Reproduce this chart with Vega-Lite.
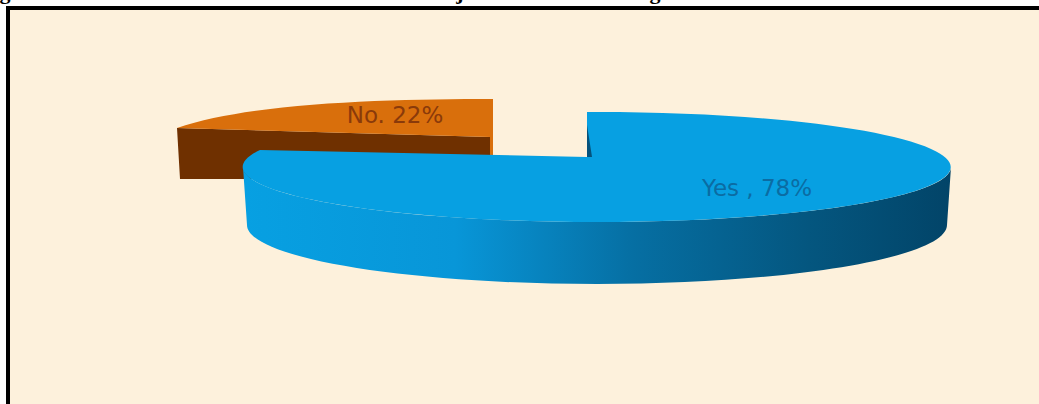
{
  "$schema": "https://vega.github.io/schema/vega-lite/v6.json",
  "width": 1039,
  "height": 404,
  "autosize": "none",
  "padding": {"left": 8, "top": 8, "right": 0, "bottom": 0},
  "background": "#ffffff",
  "view": {"fill": "#fdf1dc", "stroke": "#000000", "strokeWidth": 4},
  "data": {
    "values": [
      {"slice": "No", "value": 22, "label": "No. 22%"},
      {"slice": "Yes", "value": 78, "label": "Yes , 78%"}
    ]
  },
  "encoding": {
    "x": {"field": "slice", "type": "nominal", "axis": null, "scale": {"type": "point", "domain": ["No", "Yes"], "range": [485, 579], "padding": 0}},
    "y": {"field": "slice", "type": "nominal", "axis": null, "scale": {"type": "point", "domain": ["No", "Yes"], "range": [132, 149], "padding": 0}}
  },
  "layer": [
    {
      "transform": [{"filter": "datum.slice === 'No'"}],
      "mark": {"type": "point", "filled": true, "size": 4, "opacity": 1, "strokeWidth": 0, "fill": "#6f3000",
        "shape": "M-316,-12 L-313,39 L-240,39 L-240,15 L-3,15 L-3,-3 Z"}
    },
    {
      "transform": [{"filter": "datum.slice === 'No'"}],
      "mark": {"type": "point", "filled": true, "size": 4, "opacity": 1, "strokeWidth": 0, "fill": "#d96f0c",
        "shape": "M0,-41 C-100,-41 -240,-38 -316,-12 L-3,-3 L-3,15 L0,15 Z"}
    },
    {
      "transform": [{"filter": "datum.slice === 'Yes'"}],
      "mark": {"type": "point", "filled": true, "size": 4, "opacity": 1, "strokeWidth": 0,
        "fill": {"gradient": "linear", "x1": 0, "x2": 1, "y1": 0, "y2": 0, "stops": [
          {"offset": 0, "color": "#07a0e2"},
          {"offset": 0.3, "color": "#0896d8"},
          {"offset": 0.55, "color": "#066fa3"},
          {"offset": 0.8, "color": "#04567f"},
          {"offset": 1, "color": "#024468"}
        ]},
        "shape": "M364,10 A354,55 0 0 1 -344,10 L-340,68 A350,59 0 0 0 360,68 Z"}
    },
    {
      "transform": [{"filter": "datum.slice === 'Yes'"}],
      "mark": {"type": "point", "filled": true, "size": 4, "opacity": 1, "strokeWidth": 0, "fill": "#07a0e2",
        "shape": "M0,0 L0,-45 A354,55 0 1 1 -327,-7 Z"}
    },
    {
      "transform": [{"filter": "datum.slice === 'Yes'"}],
      "mark": {"type": "point", "filled": true, "size": 4, "opacity": 1, "strokeWidth": 0, "fill": "#04527c",
        "shape": "M0,-32 L5,0 L0,0 Z"}
    },
    {
      "transform": [{"filter": "datum.slice === 'No'"}],
      "mark": {"type": "text", "font": "DejaVu Sans", "fontSize": 23, "dx": -98, "dy": -24, "color": "#8a3a0a", "align": "center", "baseline": "middle"},
      "encoding": {"text": {"field": "label"}}
    },
    {
      "transform": [{"filter": "datum.slice === 'Yes'"}],
      "mark": {"type": "text", "font": "DejaVu Sans", "fontSize": 23, "dx": 170, "dy": 32, "color": "#0b6ca3", "align": "center", "baseline": "middle"},
      "encoding": {"text": {"field": "label"}}
    },
    {
      "data": {"values": [{"slice": "No", "fragment": "g"}]},
      "mark": {"type": "text", "font": "Liberation Serif", "fontSize": 22, "fontWeight": "bold", "color": "#000000", "dx": -488, "dy": -141, "align": "center", "baseline": "alphabetic"},
      "encoding": {"text": {"field": "fragment"}}
    },
    {
      "data": {"values": [{"slice": "No", "fragment": "j"}]},
      "mark": {"type": "text", "font": "Liberation Serif", "fontSize": 22, "fontWeight": "bold", "color": "#000000", "dx": -33, "dy": -141, "align": "center", "baseline": "alphabetic"},
      "encoding": {"text": {"field": "fragment"}}
    },
    {
      "data": {"values": [{"slice": "No", "fragment": "g"}]},
      "mark": {"type": "text", "font": "Liberation Serif", "fontSize": 22, "fontWeight": "bold", "color": "#000000", "dx": 162, "dy": -141, "align": "center", "baseline": "alphabetic"},
      "encoding": {"text": {"field": "fragment"}}
    }
  ]
}
